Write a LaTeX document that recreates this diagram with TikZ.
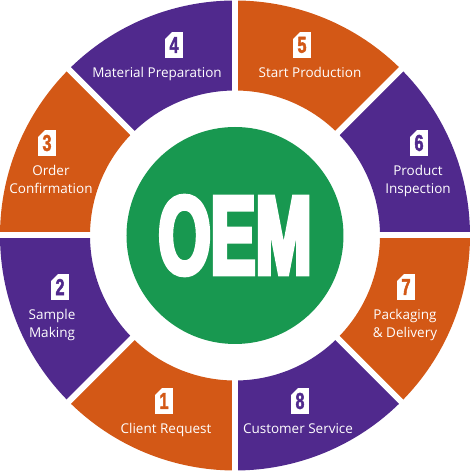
\documentclass[tikz,border=0pt]{standalone}
\usepackage{fontspec}
\setmainfont{Open Sans}
\newfontfamily\numfont{Liberation Sans}[FakeStretch=0.7,FakeBold=2]
\newfontfamily\oemfont{Liberation Sans}[FakeStretch=0.6,FakeBold=4]
\usetikzlibrary{positioning}

\definecolor{segorange}{RGB}{211,88,22}
\definecolor{segpurple}{RGB}{80,41,141}
\definecolor{oemgreen}{RGB}{24,152,80}

\begin{document}
\begin{tikzpicture}[
  % --- ring ---
  gapline/.style={draw=white, line width=6pt},
  % --- step number boxes (top-left corner cut off) ---
  numbox/.style={rectangle, fill=white, inner sep=0pt,
    minimum width=18pt, minimum height=26pt,
    font=\numfont\bfseries\fontsize{23}{23}\selectfont,
    path picture={\fill[#1] (path picture bounding box.north west)
      -- ++(7pt,0) -- ++(-7pt,-7pt) -- cycle;}},
  onum/.style={numbox=segorange, text=segorange},
  pnum/.style={numbox=segpurple, text=segpurple},
  % --- labels ---
  lbl/.style={text=white, align=center, inner sep=0pt,
    font=\fontsize{13.5}{18}\selectfont},
]
\useasboundingbox (-235pt,-237.5pt) rectangle (240pt,235.5pt);

% ===================== RING =====================

\foreach \a/\c in {0/segpurple,45/segorange,90/segpurple,135/segorange,
                   180/segpurple,225/segorange,270/segpurple,315/segorange}
  \fill[\c] (\a:145pt) arc[start angle=\a, end angle=\a+45, radius=145pt]
    -- (\a+45:235pt) arc[start angle=\a+45, end angle=\a, radius=235pt] -- cycle;

% white gaps between steps
\foreach \a in {0,45,...,315}
  \draw[gapline] (\a:140pt) -- (\a:240pt);

% ===================== CENTRE =====================

\node[circle, fill=oemgreen, minimum size=217pt, inner sep=0pt] (oem) at (0,0) {};
\node[text=white, font=\oemfont\bfseries\fontsize{112}{112}\selectfont]
  at (oem.center) {OEM};

% ===================== STEPS =====================

\node[onum] (n1) at (-71pt,-165.5pt) {1};
\node[lbl, below=9pt of n1, xshift=2pt] (t1) {Client Request};

\node[pnum] (n2) at (-175pt,-51.5pt) {2};
\node[lbl, below=9pt of n2, xshift=-8pt] (t2) {Sample\\Making};

\node[onum] (n3) at (-188pt,92.5pt) {3};
\node[lbl, below=9pt of n3, xshift=4pt] (t3) {Order\\Confirmation};

\node[pnum] (n4) at (-61pt,190.5pt) {4};
\node[lbl, below=9pt of n4, xshift=-17pt] (t4) {Material Preparation};

\node[onum] (n5) at (67pt,190.5pt) {5};
\node[lbl, below=9pt of n5, xshift=8pt] (t5) {Start Production};

\node[pnum] (n6) at (184pt,92.5pt) {6};
\node[lbl, below=9pt of n6, xshift=-1pt] (t6) {Product\\Inspection};

\node[onum] (n7) at (171pt,-51.5pt) {7};
\node[lbl, below=9pt of n7, xshift=-1pt] (t7) {Packaging\\\& Delivery};

\node[pnum] (n8) at (65pt,-165.5pt) {8};
\node[lbl, below=9pt of n8, xshift=-2pt] (t8) {Customer Service};

\end{tikzpicture}
\end{document}
